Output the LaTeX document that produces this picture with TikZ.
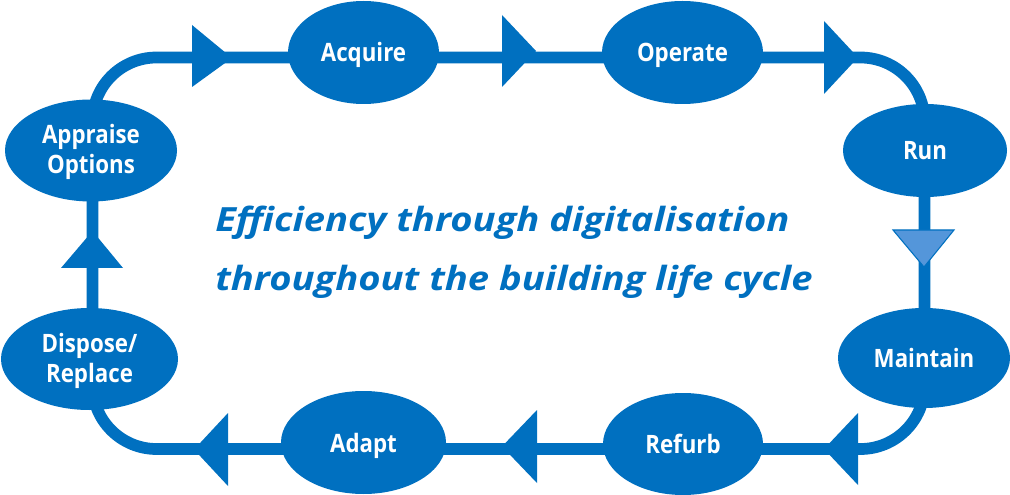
\documentclass[tikz,border=0pt]{standalone}
\usepackage{fontspec}
\setmainfont{Open Sans}
\newfontfamily\stagefont[FakeStretch=0.88]{Open Sans}
\newfontfamily\titlefont[FakeStretch=1.145]{Open Sans}
\usetikzlibrary{shapes.geometric}
\definecolor{mainblue}{RGB}{0,112,192}
\definecolor{lightblue}{RGB}{84,150,218}
\newcommand\twoline[2]{\vbox{\baselineskip=22.5pt\halign{\hfil##\hfil\cr#1\cr#2\cr}}}
\begin{document}
\begin{tikzpicture}[x=0.75pt,y=-0.75pt,
  ell/.style n args={2}{ellipse, fill=mainblue, minimum width=#1*0.75pt, minimum height=#2*0.75pt, inner sep=0pt, text=white, font=\fontsize{19}{22.5}\stagefont\bfseries, text height=14.25pt, text depth=0pt},
  ell2/.style n args={2}{ell={#1}{#2}, text height=35.25pt},
  loopline/.style={draw=mainblue, line width=8.8pt, rounded corners=48pt},
  head/.style={fill=mainblue},
  lighthead/.style={fill=lightblue, draw=mainblue, line width=0.8pt, line join=miter},
  title/.style={text=mainblue, font=\fontsize{25}{30}\titlefont\bfseries\itshape, anchor=base west, inner sep=0pt}]

\fill[white] (0,0) rectangle (1010,495);
\useasboundingbox (0,0) rectangle (1010,495);

% loop corners
\coordinate (lm) at (92.5,250);
\coordinate (tl) at (92.5,57.5);
\coordinate (tr) at (924.5,57.5);
\coordinate (br) at (924.5,449);
\coordinate (bl) at (92.5,449);
\draw[loopline] (lm) -- (tl) -- (tr) -- (br) -- (bl) -- cycle;

% arrowheads
\fill[head] (192,25) -- (192,87) -- (232,58) -- cycle;
\fill[head] (502,15) -- (502,87) -- (536,51) -- cycle;
\fill[head] (824,21) -- (824,94) -- (858,57.5) -- cycle;
\filldraw[lighthead] (893,230) -- (954,230) -- (924,267) -- cycle;
\fill[head] (858,413) -- (858,485) -- (824,449) -- cycle;
\fill[head] (537,410) -- (537,483) -- (502,446.5) -- cycle;
\fill[head] (228,413) -- (228,486) -- (194,449.5) -- cycle;
\fill[head] (61,268) -- (123,268) -- (92.5,231) -- cycle;

% stages
\node[ell2={172}{102}] (appraise) at (91,150.5) {\twoline{Appraise}{Options}};
\node[ell={151}{103}] (acquire) at (363.5,52.5) {Acquire};
\node[ell={161}{103}] (operate) at (682.5,52.5) {Operate};
\node[ell={164}{93}] (run) at (925,150.5) {Run};
\node[ell={172}{100}] (maintain) at (924,358) {Maintain};
\node[ell={160}{102}] (refurb) at (683,444) {Refurb};
\node[ell={165}{103}] (adapt) at (363.5,442.5) {Adapt};
\node[ell2={177}{102}] (dispose) at (89.5,359) {\twoline{Dispose/}{Replace}};

% title
\node[title] (t1) at (215,232) {Efficiency through digitalisation};
\node[title] (t2) at (215,291) {throughout the building life cycle};
\end{tikzpicture}
\end{document}
